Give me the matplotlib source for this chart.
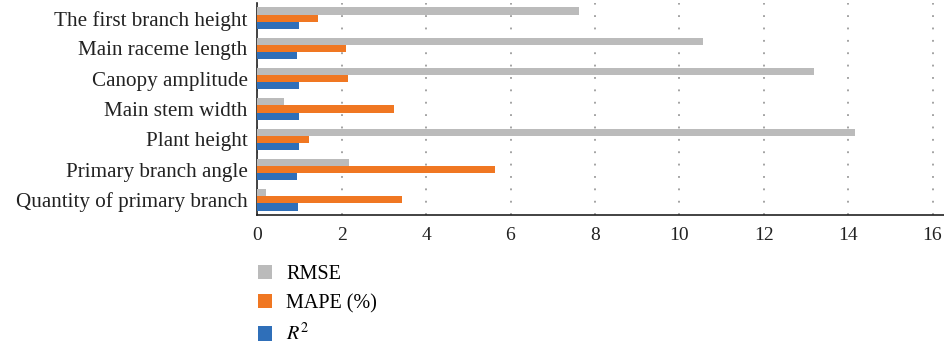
import matplotlib
matplotlib.use("Agg")
import matplotlib.pyplot as plt
import numpy as np

categories = ["The first branch height", "Main raceme length", "Canopy amplitude",
              "Main stem width", "Plant height", "Primary branch angle",
              "Quantity of primary branch"]
rmse = [7.62, 10.56, 13.19, 0.63, 14.16, 2.17, 0.21]
mape = [1.44, 2.10, 2.15, 3.24, 1.22, 5.63, 3.43]
r2 = [0.99, 0.94, 0.99, 0.99, 0.99, 0.94, 0.96]
xticks = [0, 2, 4, 6, 8, 10, 12, 14, 16]

plt.rcParams['font.family'] = ['Liberation Serif', 'DejaVu Serif']
plt.rcParams['mathtext.fontset'] = 'stix'

fig = plt.figure(figsize=(9.45, 3.45), dpi=100)
ax = fig.add_axes([257.3/945, 1-215/345, (945-257.3)/945, (215-3)/345])

y = np.arange(len(categories))
h = 0.235
c_gray, c_orange, c_blue = "#BBBBBB", "#F07722", "#2F6FB9"
ax.barh(y - h, rmse, height=h, color=c_gray, label="RMSE", zorder=3)
ax.barh(y, mape, height=h, color=c_orange, label="MAPE (%)", zorder=3)
ax.barh(y + h, r2, height=h, color=c_blue, label="$R^2$", zorder=3)

ax.set_ylim(6.5, -0.5)
ax.set_xlim(0, (945-257.3)/42.2)
ax.set_xticks(xticks)
ax.set_yticks(y)
ax.set_yticklabels(categories, fontsize=15.2)
ax.tick_params(axis='both', length=0, colors="#222222")
ax.tick_params(axis='x', pad=9, labelsize=14)
ax.tick_params(axis='y', pad=7)
ax.xaxis.grid(True, color="#8a8a8a", linewidth=1.1, linestyle=(0, (1.2, 6.9)), zorder=0)
for s in ["top", "right"]:
    ax.spines[s].set_visible(False)
for s in ["left", "bottom"]:
    ax.spines[s].set_color("#222222")
    ax.spines[s].set_linewidth(1.2)

fig.legend(loc="upper left", bbox_to_anchor=(258/945, 1-265/345), frameon=False,
           fontsize=14.5, handlelength=0.7, handleheight=0.7, handletextpad=0.7,
           labelspacing=0.5, borderpad=0, borderaxespad=0)

fig.savefig("out.png", dpi=100)
